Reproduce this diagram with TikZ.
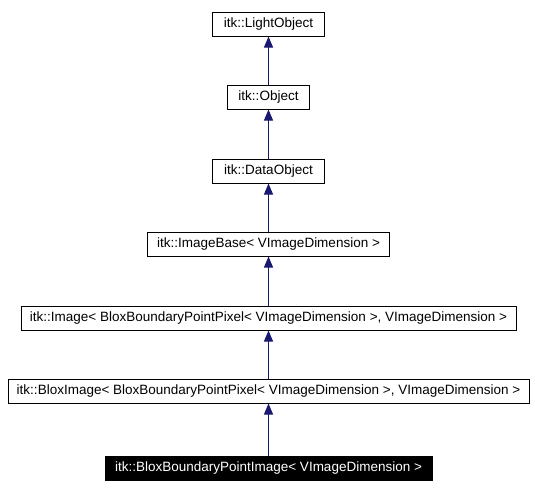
\documentclass[tikz,border=0pt]{standalone}
\usepackage{fontspec}
\setmainfont{Liberation Sans}
\usetikzlibrary{arrows.meta}
\definecolor{edgeblue}{RGB}{25,25,112}
\begin{document}
\begin{tikzpicture}[x=1pt,y=-1pt,
  cls/.style={draw=black,line width=1pt,fill=white,minimum height=24pt,inner sep=0pt,anchor=north,
    font=\fontsize{13.5}{16}\selectfont},
  final/.style={cls,fill=black,text=white},
  inh/.style={draw=edgeblue,line width=1pt,-{Triangle[length=11pt,width=9pt]}}]
\useasboundingbox (0,0) rectangle (535,490);
\node[cls,minimum width=112pt] (lo) at (268.5,11.5) {itk::LightObject};
\node[cls,minimum width=82pt] (ob) at (268.5,84.5) {itk::Object};
\node[cls,minimum width=112pt] (do) at (268.5,158.5) {itk::DataObject};
\node[cls,minimum width=242pt] (ib) at (268.5,231.5) {itk::ImageBase< VImageDimension >};
\node[cls,minimum width=495pt] (im) at (268.5,305.5) {itk::Image< BloxBoundaryPointPixel< VImageDimension >, VImageDimension >};
\node[cls,minimum width=521pt] (bi) at (268.5,378.5) {itk::BloxImage< BloxBoundaryPointPixel< VImageDimension >, VImageDimension >};
\node[final,minimum width=327pt] (bb) at (268.5,455.5) {itk::BloxBoundaryPointImage< VImageDimension >};
\draw[inh] (ob.north) -- (lo.south);
\draw[inh] (do.north) -- (ob.south);
\draw[inh] (ib.north) -- (do.south);
\draw[inh] (im.north) -- (ib.south);
\draw[inh] (bi.north) -- (im.south);
\draw[inh] (bb.north) -- (bi.south);
\end{tikzpicture}
\end{document}
